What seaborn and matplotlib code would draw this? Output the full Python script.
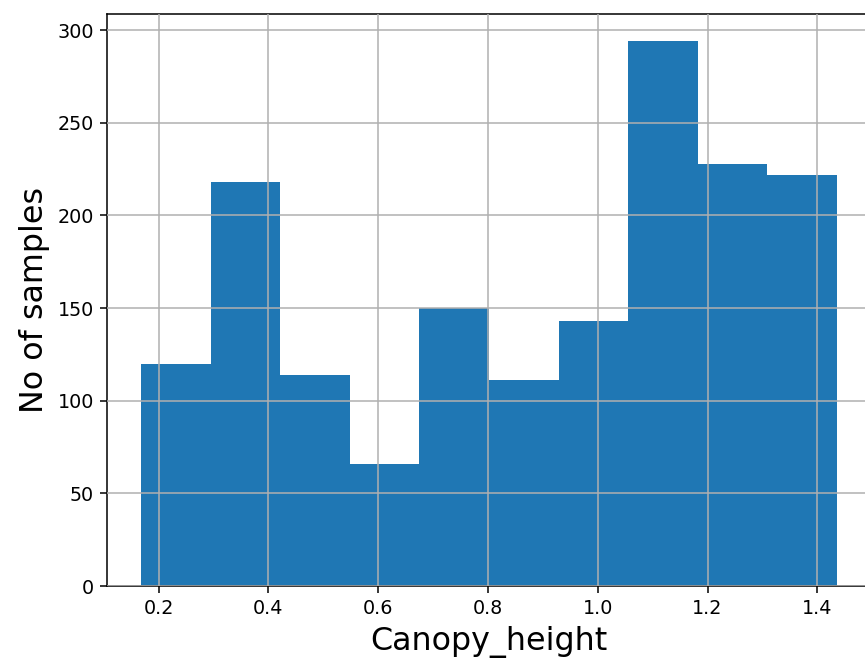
import numpy as np
import pandas as pd
import matplotlib
matplotlib.use("Agg")
import matplotlib.pyplot as plt
import seaborn as sns

# Data (10 equal-width bins)
bin_min = 0.168
bin_max = 1.436
n_bins = 10
counts = [120, 218, 114, 66, 150, 111, 143, 294, 228, 222]

edges = np.linspace(bin_min, bin_max, n_bins + 1)
centers = (edges[:-1] + edges[1:]) / 2
df = pd.DataFrame({"Canopy_height": centers, "count": counts})

plt.rcParams["font.family"] = ["DejaVu Sans"]
DPI = 138
fig = plt.figure(figsize=(865 / DPI, 662 / DPI), dpi=DPI)
ax = fig.add_axes([107.3 / 865, 76 / 662, (870.8 - 107.3) / 865, (586 - 14) / 662])

sns.histplot(data=df, x="Canopy_height", weights="count", bins=n_bins,
             binrange=(bin_min, bin_max),
             color="#1f77b4", alpha=1, linewidth=0, edgecolor="none", ax=ax)

ax.set_xlim(0.1065, 1.4975)
ax.set_ylim(0, 294 * 1.05)
ax.grid(True, color="#b0b0b0", linewidth=0.8)
ax.set_axisbelow(False)
for ln in ax.get_xgridlines() + ax.get_ygridlines():
    ln.set_zorder(1.5)
ax.set_xticks([0.2, 0.4, 0.6, 0.8, 1.0, 1.2, 1.4])
ax.set_yticks([0, 50, 100, 150, 200, 250, 300])
ax.tick_params(labelsize=10)
ax.set_xlabel("Canopy_height", fontsize=16.6)
ax.set_ylabel("No of samples", fontsize=16.6)

fig.savefig("out.png", dpi=DPI)
